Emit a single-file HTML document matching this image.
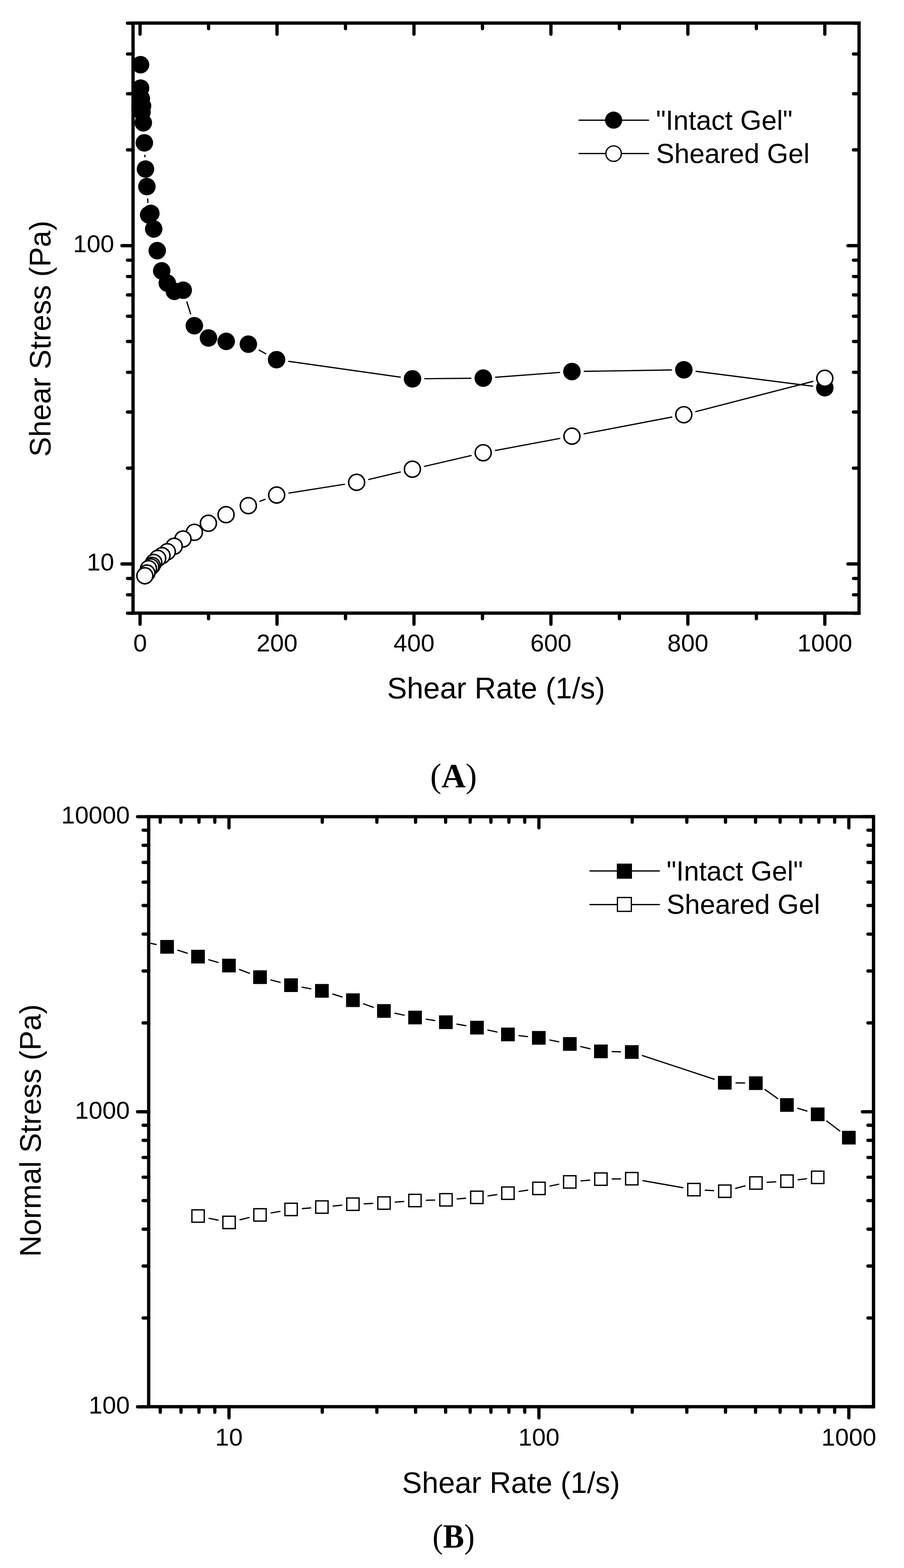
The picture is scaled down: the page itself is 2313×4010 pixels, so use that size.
<!DOCTYPE html>
<html><head><meta charset="utf-8"><title>Shear stress and normal stress vs shear rate</title>
<style>
html,body{margin:0;padding:0;background:#fff;}
body{width:2313px;height:4010px;overflow:hidden;}
svg{display:block;}
</style></head>
<body>
<svg width="2313" height="4010" viewBox="0 0 2313 4010">
<rect x="0" y="0" width="2313" height="4010" fill="#fff"/>
<g id="chartA">
<rect x="340.4" y="59.0" width="1857.6" height="1509.0" fill="none" stroke="#000" stroke-width="8.4" stroke-linejoin="miter"/>
<line x1="358.4" y1="1568.0" x2="358.4" y2="1596.5" stroke="#000" stroke-width="8.4" stroke-linecap="round"/>
<line x1="358.4" y1="59.0" x2="358.4" y2="87.5" stroke="#000" stroke-width="8.4" stroke-linecap="round"/>
<text x="358.4" y="1666.0" font-size="63" text-anchor="middle" font-family="'Liberation Sans', Arial, sans-serif" >0</text>
<line x1="533.6" y1="1568.0" x2="533.6" y2="1582.3" stroke="#000" stroke-width="8.4" stroke-linecap="round"/>
<line x1="533.6" y1="59.0" x2="533.6" y2="73.3" stroke="#000" stroke-width="8.4" stroke-linecap="round"/>
<line x1="708.8" y1="1568.0" x2="708.8" y2="1596.5" stroke="#000" stroke-width="8.4" stroke-linecap="round"/>
<line x1="708.8" y1="59.0" x2="708.8" y2="87.5" stroke="#000" stroke-width="8.4" stroke-linecap="round"/>
<text x="708.8" y="1666.0" font-size="63" text-anchor="middle" font-family="'Liberation Sans', Arial, sans-serif" >200</text>
<line x1="884.0" y1="1568.0" x2="884.0" y2="1582.3" stroke="#000" stroke-width="8.4" stroke-linecap="round"/>
<line x1="884.0" y1="59.0" x2="884.0" y2="73.3" stroke="#000" stroke-width="8.4" stroke-linecap="round"/>
<line x1="1059.2" y1="1568.0" x2="1059.2" y2="1596.5" stroke="#000" stroke-width="8.4" stroke-linecap="round"/>
<line x1="1059.2" y1="59.0" x2="1059.2" y2="87.5" stroke="#000" stroke-width="8.4" stroke-linecap="round"/>
<text x="1059.2" y="1666.0" font-size="63" text-anchor="middle" font-family="'Liberation Sans', Arial, sans-serif" >400</text>
<line x1="1234.4" y1="1568.0" x2="1234.4" y2="1582.3" stroke="#000" stroke-width="8.4" stroke-linecap="round"/>
<line x1="1234.4" y1="59.0" x2="1234.4" y2="73.3" stroke="#000" stroke-width="8.4" stroke-linecap="round"/>
<line x1="1409.6" y1="1568.0" x2="1409.6" y2="1596.5" stroke="#000" stroke-width="8.4" stroke-linecap="round"/>
<line x1="1409.6" y1="59.0" x2="1409.6" y2="87.5" stroke="#000" stroke-width="8.4" stroke-linecap="round"/>
<text x="1409.6" y="1666.0" font-size="63" text-anchor="middle" font-family="'Liberation Sans', Arial, sans-serif" >600</text>
<line x1="1584.8" y1="1568.0" x2="1584.8" y2="1582.3" stroke="#000" stroke-width="8.4" stroke-linecap="round"/>
<line x1="1584.8" y1="59.0" x2="1584.8" y2="73.3" stroke="#000" stroke-width="8.4" stroke-linecap="round"/>
<line x1="1760.0" y1="1568.0" x2="1760.0" y2="1596.5" stroke="#000" stroke-width="8.4" stroke-linecap="round"/>
<line x1="1760.0" y1="59.0" x2="1760.0" y2="87.5" stroke="#000" stroke-width="8.4" stroke-linecap="round"/>
<text x="1760.0" y="1666.0" font-size="63" text-anchor="middle" font-family="'Liberation Sans', Arial, sans-serif" >800</text>
<line x1="1935.2" y1="1568.0" x2="1935.2" y2="1582.3" stroke="#000" stroke-width="8.4" stroke-linecap="round"/>
<line x1="1935.2" y1="59.0" x2="1935.2" y2="73.3" stroke="#000" stroke-width="8.4" stroke-linecap="round"/>
<line x1="2110.4" y1="1568.0" x2="2110.4" y2="1596.5" stroke="#000" stroke-width="8.4" stroke-linecap="round"/>
<line x1="2110.4" y1="59.0" x2="2110.4" y2="87.5" stroke="#000" stroke-width="8.4" stroke-linecap="round"/>
<text x="2110.4" y="1666.0" font-size="63" text-anchor="middle" font-family="'Liberation Sans', Arial, sans-serif" >1000</text>
<line x1="340.4" y1="1568.3" x2="326.1" y2="1568.3" stroke="#000" stroke-width="8.4" stroke-linecap="round"/>
<line x1="2198.0" y1="1568.3" x2="2183.7" y2="1568.3" stroke="#000" stroke-width="8.4" stroke-linecap="round"/>
<line x1="340.4" y1="1521.1" x2="326.1" y2="1521.1" stroke="#000" stroke-width="8.4" stroke-linecap="round"/>
<line x1="2198.0" y1="1521.1" x2="2183.7" y2="1521.1" stroke="#000" stroke-width="8.4" stroke-linecap="round"/>
<line x1="340.4" y1="1479.4" x2="326.1" y2="1479.4" stroke="#000" stroke-width="8.4" stroke-linecap="round"/>
<line x1="2198.0" y1="1479.4" x2="2183.7" y2="1479.4" stroke="#000" stroke-width="8.4" stroke-linecap="round"/>
<line x1="340.4" y1="1442.2" x2="311.9" y2="1442.2" stroke="#000" stroke-width="8.4" stroke-linecap="round"/>
<line x1="2198.0" y1="1442.2" x2="2169.5" y2="1442.2" stroke="#000" stroke-width="8.4" stroke-linecap="round"/>
<line x1="340.4" y1="1197.2" x2="326.1" y2="1197.2" stroke="#000" stroke-width="8.4" stroke-linecap="round"/>
<line x1="2198.0" y1="1197.2" x2="2183.7" y2="1197.2" stroke="#000" stroke-width="8.4" stroke-linecap="round"/>
<line x1="340.4" y1="1053.8" x2="326.1" y2="1053.8" stroke="#000" stroke-width="8.4" stroke-linecap="round"/>
<line x1="2198.0" y1="1053.8" x2="2183.7" y2="1053.8" stroke="#000" stroke-width="8.4" stroke-linecap="round"/>
<line x1="340.4" y1="952.1" x2="326.1" y2="952.1" stroke="#000" stroke-width="8.4" stroke-linecap="round"/>
<line x1="2198.0" y1="952.1" x2="2183.7" y2="952.1" stroke="#000" stroke-width="8.4" stroke-linecap="round"/>
<line x1="340.4" y1="873.2" x2="326.1" y2="873.2" stroke="#000" stroke-width="8.4" stroke-linecap="round"/>
<line x1="2198.0" y1="873.2" x2="2183.7" y2="873.2" stroke="#000" stroke-width="8.4" stroke-linecap="round"/>
<line x1="340.4" y1="808.8" x2="326.1" y2="808.8" stroke="#000" stroke-width="8.4" stroke-linecap="round"/>
<line x1="2198.0" y1="808.8" x2="2183.7" y2="808.8" stroke="#000" stroke-width="8.4" stroke-linecap="round"/>
<line x1="340.4" y1="754.3" x2="326.1" y2="754.3" stroke="#000" stroke-width="8.4" stroke-linecap="round"/>
<line x1="2198.0" y1="754.3" x2="2183.7" y2="754.3" stroke="#000" stroke-width="8.4" stroke-linecap="round"/>
<line x1="340.4" y1="707.1" x2="326.1" y2="707.1" stroke="#000" stroke-width="8.4" stroke-linecap="round"/>
<line x1="2198.0" y1="707.1" x2="2183.7" y2="707.1" stroke="#000" stroke-width="8.4" stroke-linecap="round"/>
<line x1="340.4" y1="665.4" x2="326.1" y2="665.4" stroke="#000" stroke-width="8.4" stroke-linecap="round"/>
<line x1="2198.0" y1="665.4" x2="2183.7" y2="665.4" stroke="#000" stroke-width="8.4" stroke-linecap="round"/>
<line x1="340.4" y1="628.2" x2="311.9" y2="628.2" stroke="#000" stroke-width="8.4" stroke-linecap="round"/>
<line x1="2198.0" y1="628.2" x2="2169.5" y2="628.2" stroke="#000" stroke-width="8.4" stroke-linecap="round"/>
<line x1="340.4" y1="383.2" x2="326.1" y2="383.2" stroke="#000" stroke-width="8.4" stroke-linecap="round"/>
<line x1="2198.0" y1="383.2" x2="2183.7" y2="383.2" stroke="#000" stroke-width="8.4" stroke-linecap="round"/>
<line x1="340.4" y1="239.8" x2="326.1" y2="239.8" stroke="#000" stroke-width="8.4" stroke-linecap="round"/>
<line x1="2198.0" y1="239.8" x2="2183.7" y2="239.8" stroke="#000" stroke-width="8.4" stroke-linecap="round"/>
<line x1="340.4" y1="138.1" x2="326.1" y2="138.1" stroke="#000" stroke-width="8.4" stroke-linecap="round"/>
<line x1="2198.0" y1="138.1" x2="2183.7" y2="138.1" stroke="#000" stroke-width="8.4" stroke-linecap="round"/>
<line x1="340.4" y1="59.2" x2="326.1" y2="59.2" stroke="#000" stroke-width="8.4" stroke-linecap="round"/>
<line x1="2198.0" y1="59.2" x2="2183.7" y2="59.2" stroke="#000" stroke-width="8.4" stroke-linecap="round"/>
<text x="292.0" y="644.7" font-size="63" text-anchor="end" font-family="'Liberation Sans', Arial, sans-serif" >100</text>
<text x="292.0" y="1458.7" font-size="63" text-anchor="end" font-family="'Liberation Sans', Arial, sans-serif" >10</text>
<text x="1269.2" y="1786.3" font-size="76" text-anchor="middle" font-family="'Liberation Sans', Arial, sans-serif" >Shear Rate (1/s)</text>
<text x="0" y="0" font-size="76" text-anchor="middle" font-family="'Liberation Sans', Arial, sans-serif" transform="translate(128.6,866.3) rotate(-90)">Shear Stress (Pa)</text>
</g>
<g id="dataA">
<line x1="370.7" y1="396.9" x2="370.8" y2="400.8" stroke="#000" stroke-width="3.2" stroke-linecap="round"/>
<line x1="377.8" y1="508.6" x2="378.4" y2="518.0" stroke="#000" stroke-width="3.2" stroke-linecap="round"/>
<line x1="478.2" y1="772.4" x2="487.8" y2="802.8" stroke="#000" stroke-width="3.2" stroke-linecap="round"/>
<line x1="663.1" y1="895.4" x2="679.9" y2="904.6" stroke="#000" stroke-width="3.2" stroke-linecap="round"/>
<line x1="738.9" y1="924.2" x2="1024.1" y2="964.4" stroke="#000" stroke-width="3.2" stroke-linecap="round"/>
<line x1="1087.0" y1="968.5" x2="1204.9" y2="967.3" stroke="#000" stroke-width="3.2" stroke-linecap="round"/>
<line x1="1268.0" y1="964.7" x2="1431.8" y2="952.5" stroke="#000" stroke-width="3.2" stroke-linecap="round"/>
<line x1="1494.9" y1="949.7" x2="1718.1" y2="946.2" stroke="#000" stroke-width="3.2" stroke-linecap="round"/>
<line x1="1781.0" y1="949.7" x2="2079.1" y2="987.6" stroke="#000" stroke-width="3.2" stroke-linecap="round"/>
<circle cx="359.6" cy="165.5" r="22.4" fill="#000"/>
<circle cx="359.7" cy="225.4" r="22.4" fill="#000"/>
<circle cx="361.6" cy="252.0" r="22.4" fill="#000"/>
<circle cx="364.7" cy="271.0" r="22.4" fill="#000"/>
<circle cx="363.3" cy="287.0" r="22.4" fill="#000"/>
<circle cx="366.7" cy="314.0" r="22.4" fill="#000"/>
<circle cx="369.3" cy="365.3" r="22.4" fill="#000"/>
<circle cx="372.2" cy="432.4" r="22.4" fill="#000"/>
<circle cx="375.8" cy="477.1" r="22.4" fill="#000"/>
<circle cx="380.4" cy="549.5" r="22.4" fill="#000"/>
<circle cx="386.0" cy="545.7" r="22.4" fill="#000"/>
<circle cx="393.3" cy="585.5" r="22.4" fill="#000"/>
<circle cx="402.3" cy="641.0" r="22.4" fill="#000"/>
<circle cx="413.7" cy="692.7" r="22.4" fill="#000"/>
<circle cx="428.0" cy="724.0" r="22.4" fill="#000"/>
<circle cx="446.1" cy="745.0" r="22.4" fill="#000"/>
<circle cx="468.8" cy="742.2" r="22.4" fill="#000"/>
<circle cx="497.2" cy="833.0" r="22.4" fill="#000"/>
<circle cx="533.4" cy="864.3" r="22.4" fill="#000"/>
<circle cx="578.8" cy="873.0" r="22.4" fill="#000"/>
<circle cx="635.4" cy="880.2" r="22.4" fill="#000"/>
<circle cx="707.6" cy="919.8" r="22.4" fill="#000"/>
<circle cx="1055.4" cy="968.8" r="22.4" fill="#000"/>
<circle cx="1236.5" cy="967.0" r="22.4" fill="#000"/>
<circle cx="1463.3" cy="950.2" r="22.4" fill="#000"/>
<circle cx="1749.7" cy="945.7" r="22.4" fill="#000"/>
<circle cx="2110.4" cy="991.6" r="22.4" fill="#000"/>
<line x1="665.0" y1="1282.1" x2="678.3" y2="1277.1" stroke="#000" stroke-width="3.2" stroke-linecap="round"/>
<line x1="739.1" y1="1261.0" x2="881.3" y2="1238.5" stroke="#000" stroke-width="3.2" stroke-linecap="round"/>
<line x1="943.3" y1="1226.3" x2="1024.4" y2="1207.1" stroke="#000" stroke-width="3.2" stroke-linecap="round"/>
<line x1="1086.0" y1="1192.7" x2="1205.5" y2="1165.0" stroke="#000" stroke-width="3.2" stroke-linecap="round"/>
<line x1="1267.4" y1="1152.0" x2="1432.3" y2="1121.3" stroke="#000" stroke-width="3.2" stroke-linecap="round"/>
<line x1="1494.4" y1="1109.5" x2="1718.6" y2="1066.6" stroke="#000" stroke-width="3.2" stroke-linecap="round"/>
<line x1="1780.2" y1="1052.7" x2="2079.8" y2="975.4" stroke="#000" stroke-width="3.2" stroke-linecap="round"/>
<circle cx="2110.4" cy="967.5" r="20.45" fill="#fff" stroke="#000" stroke-width="3.9"/>
<circle cx="1749.6" cy="1060.6" r="20.45" fill="#fff" stroke="#000" stroke-width="3.9"/>
<circle cx="1463.4" cy="1115.5" r="20.45" fill="#fff" stroke="#000" stroke-width="3.9"/>
<circle cx="1236.3" cy="1157.8" r="20.45" fill="#fff" stroke="#000" stroke-width="3.9"/>
<circle cx="1055.2" cy="1199.9" r="20.45" fill="#fff" stroke="#000" stroke-width="3.9"/>
<circle cx="912.5" cy="1233.5" r="20.45" fill="#fff" stroke="#000" stroke-width="3.9"/>
<circle cx="707.9" cy="1266.0" r="20.45" fill="#fff" stroke="#000" stroke-width="3.9"/>
<circle cx="635.4" cy="1293.2" r="20.45" fill="#fff" stroke="#000" stroke-width="3.9"/>
<circle cx="578.4" cy="1316.2" r="20.45" fill="#fff" stroke="#000" stroke-width="3.9"/>
<circle cx="533.2" cy="1338.2" r="20.45" fill="#fff" stroke="#000" stroke-width="3.9"/>
<circle cx="497.4" cy="1361.3" r="20.45" fill="#fff" stroke="#000" stroke-width="3.9"/>
<circle cx="468.2" cy="1378.4" r="20.45" fill="#fff" stroke="#000" stroke-width="3.9"/>
<circle cx="445.7" cy="1396.9" r="20.45" fill="#fff" stroke="#000" stroke-width="3.9"/>
<circle cx="428.1" cy="1411.0" r="20.45" fill="#fff" stroke="#000" stroke-width="3.9"/>
<circle cx="414.5" cy="1421.0" r="20.45" fill="#fff" stroke="#000" stroke-width="3.9"/>
<circle cx="403.5" cy="1428.0" r="20.45" fill="#fff" stroke="#000" stroke-width="3.9"/>
<circle cx="393.5" cy="1438.4" r="20.45" fill="#fff" stroke="#000" stroke-width="3.9"/>
<circle cx="389.3" cy="1446.0" r="20.45" fill="#fff" stroke="#000" stroke-width="3.9"/>
<circle cx="385.8" cy="1449.8" r="20.45" fill="#fff" stroke="#000" stroke-width="3.9"/>
<circle cx="380.0" cy="1454.3" r="20.45" fill="#fff" stroke="#000" stroke-width="3.9"/>
<circle cx="375.9" cy="1465.5" r="20.45" fill="#fff" stroke="#000" stroke-width="3.9"/>
<circle cx="370.6" cy="1472.5" r="20.45" fill="#fff" stroke="#000" stroke-width="3.9"/>
</g>
<line x1="1481.5" y1="307.4" x2="1659.5" y2="307.4" stroke="#000" stroke-width="3.2" stroke-linecap="round"/>
<circle cx="1570" cy="307.2" r="21.9" fill="#000"/>
<line x1="1481.5" y1="392.6" x2="1659.5" y2="392.6" stroke="#000" stroke-width="3.2" stroke-linecap="round"/>
<circle cx="1570" cy="392.9" r="19.8" fill="#fff" stroke="#000" stroke-width="3.3"/>
<text x="1678.5" y="332.2" font-size="70" text-anchor="start" font-family="'Liberation Sans', Arial, sans-serif" >"Intact Gel"</text>
<text x="1678.5" y="416.9" font-size="70" text-anchor="start" font-family="'Liberation Sans', Arial, sans-serif" >Sheared Gel</text>
<text x="1160.5" y="2012.8" font-size="86" text-anchor="middle" font-family="'Liberation Serif', 'Times New Roman', serif" >(<tspan font-weight="bold">A</tspan>)</text>
<g id="chartB">
<rect x="380.4" y="2088.6" width="1854.6" height="1508.9" fill="none" stroke="#000" stroke-width="8.4" stroke-linejoin="miter"/>
<line x1="410.0" y1="3597.5" x2="410.0" y2="3611.8" stroke="#000" stroke-width="8.4" stroke-linecap="round"/>
<line x1="410.0" y1="2088.6" x2="410.0" y2="2102.9" stroke="#000" stroke-width="8.4" stroke-linecap="round"/>
<line x1="463.1" y1="3597.5" x2="463.1" y2="3611.8" stroke="#000" stroke-width="8.4" stroke-linecap="round"/>
<line x1="463.1" y1="2088.6" x2="463.1" y2="2102.9" stroke="#000" stroke-width="8.4" stroke-linecap="round"/>
<line x1="509.1" y1="3597.5" x2="509.1" y2="3611.8" stroke="#000" stroke-width="8.4" stroke-linecap="round"/>
<line x1="509.1" y1="2088.6" x2="509.1" y2="2102.9" stroke="#000" stroke-width="8.4" stroke-linecap="round"/>
<line x1="549.6" y1="3597.5" x2="549.6" y2="3611.8" stroke="#000" stroke-width="8.4" stroke-linecap="round"/>
<line x1="549.6" y1="2088.6" x2="549.6" y2="2102.9" stroke="#000" stroke-width="8.4" stroke-linecap="round"/>
<line x1="585.9" y1="3597.5" x2="585.9" y2="3626.0" stroke="#000" stroke-width="8.4" stroke-linecap="round"/>
<line x1="585.9" y1="2088.6" x2="585.9" y2="2117.1" stroke="#000" stroke-width="8.4" stroke-linecap="round"/>
<text x="585.9" y="3697.0" font-size="63" text-anchor="middle" font-family="'Liberation Sans', Arial, sans-serif" >10</text>
<line x1="824.6" y1="3597.5" x2="824.6" y2="3611.8" stroke="#000" stroke-width="8.4" stroke-linecap="round"/>
<line x1="824.6" y1="2088.6" x2="824.6" y2="2102.9" stroke="#000" stroke-width="8.4" stroke-linecap="round"/>
<line x1="964.3" y1="3597.5" x2="964.3" y2="3611.8" stroke="#000" stroke-width="8.4" stroke-linecap="round"/>
<line x1="964.3" y1="2088.6" x2="964.3" y2="2102.9" stroke="#000" stroke-width="8.4" stroke-linecap="round"/>
<line x1="1063.3" y1="3597.5" x2="1063.3" y2="3611.8" stroke="#000" stroke-width="8.4" stroke-linecap="round"/>
<line x1="1063.3" y1="2088.6" x2="1063.3" y2="2102.9" stroke="#000" stroke-width="8.4" stroke-linecap="round"/>
<line x1="1140.2" y1="3597.5" x2="1140.2" y2="3611.8" stroke="#000" stroke-width="8.4" stroke-linecap="round"/>
<line x1="1140.2" y1="2088.6" x2="1140.2" y2="2102.9" stroke="#000" stroke-width="8.4" stroke-linecap="round"/>
<line x1="1203.0" y1="3597.5" x2="1203.0" y2="3611.8" stroke="#000" stroke-width="8.4" stroke-linecap="round"/>
<line x1="1203.0" y1="2088.6" x2="1203.0" y2="2102.9" stroke="#000" stroke-width="8.4" stroke-linecap="round"/>
<line x1="1256.1" y1="3597.5" x2="1256.1" y2="3611.8" stroke="#000" stroke-width="8.4" stroke-linecap="round"/>
<line x1="1256.1" y1="2088.6" x2="1256.1" y2="2102.9" stroke="#000" stroke-width="8.4" stroke-linecap="round"/>
<line x1="1302.1" y1="3597.5" x2="1302.1" y2="3611.8" stroke="#000" stroke-width="8.4" stroke-linecap="round"/>
<line x1="1302.1" y1="2088.6" x2="1302.1" y2="2102.9" stroke="#000" stroke-width="8.4" stroke-linecap="round"/>
<line x1="1342.6" y1="3597.5" x2="1342.6" y2="3611.8" stroke="#000" stroke-width="8.4" stroke-linecap="round"/>
<line x1="1342.6" y1="2088.6" x2="1342.6" y2="2102.9" stroke="#000" stroke-width="8.4" stroke-linecap="round"/>
<line x1="1378.9" y1="3597.5" x2="1378.9" y2="3626.0" stroke="#000" stroke-width="8.4" stroke-linecap="round"/>
<line x1="1378.9" y1="2088.6" x2="1378.9" y2="2117.1" stroke="#000" stroke-width="8.4" stroke-linecap="round"/>
<text x="1378.9" y="3697.0" font-size="63" text-anchor="middle" font-family="'Liberation Sans', Arial, sans-serif" >100</text>
<line x1="1617.6" y1="3597.5" x2="1617.6" y2="3611.8" stroke="#000" stroke-width="8.4" stroke-linecap="round"/>
<line x1="1617.6" y1="2088.6" x2="1617.6" y2="2102.9" stroke="#000" stroke-width="8.4" stroke-linecap="round"/>
<line x1="1757.3" y1="3597.5" x2="1757.3" y2="3611.8" stroke="#000" stroke-width="8.4" stroke-linecap="round"/>
<line x1="1757.3" y1="2088.6" x2="1757.3" y2="2102.9" stroke="#000" stroke-width="8.4" stroke-linecap="round"/>
<line x1="1856.3" y1="3597.5" x2="1856.3" y2="3611.8" stroke="#000" stroke-width="8.4" stroke-linecap="round"/>
<line x1="1856.3" y1="2088.6" x2="1856.3" y2="2102.9" stroke="#000" stroke-width="8.4" stroke-linecap="round"/>
<line x1="1933.2" y1="3597.5" x2="1933.2" y2="3611.8" stroke="#000" stroke-width="8.4" stroke-linecap="round"/>
<line x1="1933.2" y1="2088.6" x2="1933.2" y2="2102.9" stroke="#000" stroke-width="8.4" stroke-linecap="round"/>
<line x1="1996.0" y1="3597.5" x2="1996.0" y2="3611.8" stroke="#000" stroke-width="8.4" stroke-linecap="round"/>
<line x1="1996.0" y1="2088.6" x2="1996.0" y2="2102.9" stroke="#000" stroke-width="8.4" stroke-linecap="round"/>
<line x1="2049.1" y1="3597.5" x2="2049.1" y2="3611.8" stroke="#000" stroke-width="8.4" stroke-linecap="round"/>
<line x1="2049.1" y1="2088.6" x2="2049.1" y2="2102.9" stroke="#000" stroke-width="8.4" stroke-linecap="round"/>
<line x1="2095.1" y1="3597.5" x2="2095.1" y2="3611.8" stroke="#000" stroke-width="8.4" stroke-linecap="round"/>
<line x1="2095.1" y1="2088.6" x2="2095.1" y2="2102.9" stroke="#000" stroke-width="8.4" stroke-linecap="round"/>
<line x1="2135.6" y1="3597.5" x2="2135.6" y2="3611.8" stroke="#000" stroke-width="8.4" stroke-linecap="round"/>
<line x1="2135.6" y1="2088.6" x2="2135.6" y2="2102.9" stroke="#000" stroke-width="8.4" stroke-linecap="round"/>
<line x1="2171.9" y1="3597.5" x2="2171.9" y2="3626.0" stroke="#000" stroke-width="8.4" stroke-linecap="round"/>
<line x1="2171.9" y1="2088.6" x2="2171.9" y2="2117.1" stroke="#000" stroke-width="8.4" stroke-linecap="round"/>
<text x="2171.9" y="3697.0" font-size="63" text-anchor="middle" font-family="'Liberation Sans', Arial, sans-serif" >1000</text>
<line x1="380.4" y1="3597.8" x2="351.9" y2="3597.8" stroke="#000" stroke-width="8.4" stroke-linecap="round"/>
<line x1="2235.0" y1="3597.8" x2="2206.5" y2="3597.8" stroke="#000" stroke-width="8.4" stroke-linecap="round"/>
<line x1="380.4" y1="3370.6" x2="366.1" y2="3370.6" stroke="#000" stroke-width="8.4" stroke-linecap="round"/>
<line x1="2235.0" y1="3370.6" x2="2220.7" y2="3370.6" stroke="#000" stroke-width="8.4" stroke-linecap="round"/>
<line x1="380.4" y1="3237.8" x2="366.1" y2="3237.8" stroke="#000" stroke-width="8.4" stroke-linecap="round"/>
<line x1="2235.0" y1="3237.8" x2="2220.7" y2="3237.8" stroke="#000" stroke-width="8.4" stroke-linecap="round"/>
<line x1="380.4" y1="3143.5" x2="366.1" y2="3143.5" stroke="#000" stroke-width="8.4" stroke-linecap="round"/>
<line x1="2235.0" y1="3143.5" x2="2220.7" y2="3143.5" stroke="#000" stroke-width="8.4" stroke-linecap="round"/>
<line x1="380.4" y1="3070.4" x2="366.1" y2="3070.4" stroke="#000" stroke-width="8.4" stroke-linecap="round"/>
<line x1="2235.0" y1="3070.4" x2="2220.7" y2="3070.4" stroke="#000" stroke-width="8.4" stroke-linecap="round"/>
<line x1="380.4" y1="3010.6" x2="366.1" y2="3010.6" stroke="#000" stroke-width="8.4" stroke-linecap="round"/>
<line x1="2235.0" y1="3010.6" x2="2220.7" y2="3010.6" stroke="#000" stroke-width="8.4" stroke-linecap="round"/>
<line x1="380.4" y1="2960.1" x2="366.1" y2="2960.1" stroke="#000" stroke-width="8.4" stroke-linecap="round"/>
<line x1="2235.0" y1="2960.1" x2="2220.7" y2="2960.1" stroke="#000" stroke-width="8.4" stroke-linecap="round"/>
<line x1="380.4" y1="2916.3" x2="366.1" y2="2916.3" stroke="#000" stroke-width="8.4" stroke-linecap="round"/>
<line x1="2235.0" y1="2916.3" x2="2220.7" y2="2916.3" stroke="#000" stroke-width="8.4" stroke-linecap="round"/>
<line x1="380.4" y1="2877.7" x2="366.1" y2="2877.7" stroke="#000" stroke-width="8.4" stroke-linecap="round"/>
<line x1="2235.0" y1="2877.7" x2="2220.7" y2="2877.7" stroke="#000" stroke-width="8.4" stroke-linecap="round"/>
<line x1="380.4" y1="2843.2" x2="351.9" y2="2843.2" stroke="#000" stroke-width="8.4" stroke-linecap="round"/>
<line x1="2235.0" y1="2843.2" x2="2206.5" y2="2843.2" stroke="#000" stroke-width="8.4" stroke-linecap="round"/>
<line x1="380.4" y1="2616.0" x2="366.1" y2="2616.0" stroke="#000" stroke-width="8.4" stroke-linecap="round"/>
<line x1="2235.0" y1="2616.0" x2="2220.7" y2="2616.0" stroke="#000" stroke-width="8.4" stroke-linecap="round"/>
<line x1="380.4" y1="2483.2" x2="366.1" y2="2483.2" stroke="#000" stroke-width="8.4" stroke-linecap="round"/>
<line x1="2235.0" y1="2483.2" x2="2220.7" y2="2483.2" stroke="#000" stroke-width="8.4" stroke-linecap="round"/>
<line x1="380.4" y1="2388.9" x2="366.1" y2="2388.9" stroke="#000" stroke-width="8.4" stroke-linecap="round"/>
<line x1="2235.0" y1="2388.9" x2="2220.7" y2="2388.9" stroke="#000" stroke-width="8.4" stroke-linecap="round"/>
<line x1="380.4" y1="2315.8" x2="366.1" y2="2315.8" stroke="#000" stroke-width="8.4" stroke-linecap="round"/>
<line x1="2235.0" y1="2315.8" x2="2220.7" y2="2315.8" stroke="#000" stroke-width="8.4" stroke-linecap="round"/>
<line x1="380.4" y1="2256.0" x2="366.1" y2="2256.0" stroke="#000" stroke-width="8.4" stroke-linecap="round"/>
<line x1="2235.0" y1="2256.0" x2="2220.7" y2="2256.0" stroke="#000" stroke-width="8.4" stroke-linecap="round"/>
<line x1="380.4" y1="2205.5" x2="366.1" y2="2205.5" stroke="#000" stroke-width="8.4" stroke-linecap="round"/>
<line x1="2235.0" y1="2205.5" x2="2220.7" y2="2205.5" stroke="#000" stroke-width="8.4" stroke-linecap="round"/>
<line x1="380.4" y1="2161.7" x2="366.1" y2="2161.7" stroke="#000" stroke-width="8.4" stroke-linecap="round"/>
<line x1="2235.0" y1="2161.7" x2="2220.7" y2="2161.7" stroke="#000" stroke-width="8.4" stroke-linecap="round"/>
<line x1="380.4" y1="2123.1" x2="366.1" y2="2123.1" stroke="#000" stroke-width="8.4" stroke-linecap="round"/>
<line x1="2235.0" y1="2123.1" x2="2220.7" y2="2123.1" stroke="#000" stroke-width="8.4" stroke-linecap="round"/>
<line x1="380.4" y1="2088.6" x2="351.9" y2="2088.6" stroke="#000" stroke-width="8.4" stroke-linecap="round"/>
<line x1="2235.0" y1="2088.6" x2="2206.5" y2="2088.6" stroke="#000" stroke-width="8.4" stroke-linecap="round"/>
<text x="332.0" y="3615.3" font-size="63" text-anchor="end" font-family="'Liberation Sans', Arial, sans-serif" >100</text>
<text x="332.0" y="2860.7" font-size="63" text-anchor="end" font-family="'Liberation Sans', Arial, sans-serif" >1000</text>
<text x="332.0" y="2106.1" font-size="63" text-anchor="end" font-family="'Liberation Sans', Arial, sans-serif" >10000</text>
<text x="1307.6" y="3818.1" font-size="76" text-anchor="middle" font-family="'Liberation Sans', Arial, sans-serif" >Shear Rate (1/s)</text>
<text x="0" y="0" font-size="76" text-anchor="middle" font-family="'Liberation Sans', Arial, sans-serif" transform="translate(103.7,2891.3) rotate(-90)">Normal Stress (Pa)</text>
</g>
<defs><clipPath id="clipB"><rect x="384.6" y="2088.6" width="1846.2" height="1508.9"/></clipPath></defs>
<g id="dataB" clip-path="url(#clipB)">
<line x1="376.2" y1="2410.5" x2="399.3" y2="2415.4" stroke="#000" stroke-width="3.2" stroke-linecap="round"/>
<line x1="455.0" y1="2430.1" x2="479.1" y2="2437.8" stroke="#000" stroke-width="3.2" stroke-linecap="round"/>
<line x1="534.3" y1="2454.5" x2="558.1" y2="2461.3" stroke="#000" stroke-width="3.2" stroke-linecap="round"/>
<line x1="612.8" y1="2479.4" x2="638.3" y2="2488.9" stroke="#000" stroke-width="3.2" stroke-linecap="round"/>
<line x1="693.2" y1="2506.2" x2="716.7" y2="2512.3" stroke="#000" stroke-width="3.2" stroke-linecap="round"/>
<line x1="772.9" y1="2524.7" x2="795.3" y2="2528.8" stroke="#000" stroke-width="3.2" stroke-linecap="round"/>
<line x1="851.2" y1="2542.3" x2="875.4" y2="2549.6" stroke="#000" stroke-width="3.2" stroke-linecap="round"/>
<line x1="930.2" y1="2567.3" x2="955.1" y2="2576.0" stroke="#000" stroke-width="3.2" stroke-linecap="round"/>
<line x1="1010.5" y1="2591.3" x2="1033.8" y2="2596.3" stroke="#000" stroke-width="3.2" stroke-linecap="round"/>
<line x1="1090.5" y1="2606.5" x2="1112.3" y2="2609.9" stroke="#000" stroke-width="3.2" stroke-linecap="round"/>
<line x1="1169.2" y1="2619.2" x2="1191.9" y2="2623.1" stroke="#000" stroke-width="3.2" stroke-linecap="round"/>
<line x1="1248.4" y1="2634.3" x2="1271.5" y2="2639.3" stroke="#000" stroke-width="3.2" stroke-linecap="round"/>
<line x1="1328.2" y1="2648.7" x2="1350.0" y2="2651.0" stroke="#000" stroke-width="3.2" stroke-linecap="round"/>
<line x1="1406.9" y1="2659.8" x2="1429.7" y2="2664.2" stroke="#000" stroke-width="3.2" stroke-linecap="round"/>
<line x1="1486.0" y1="2676.5" x2="1509.5" y2="2682.1" stroke="#000" stroke-width="3.2" stroke-linecap="round"/>
<line x1="1566.3" y1="2689.4" x2="1587.7" y2="2689.8" stroke="#000" stroke-width="3.2" stroke-linecap="round"/>
<line x1="1643.8" y1="2699.4" x2="1827.2" y2="2760.0" stroke="#000" stroke-width="3.2" stroke-linecap="round"/>
<line x1="1883.3" y1="2769.4" x2="1905.1" y2="2769.7" stroke="#000" stroke-width="3.2" stroke-linecap="round"/>
<line x1="1957.5" y1="2786.6" x2="1989.8" y2="2809.4" stroke="#000" stroke-width="3.2" stroke-linecap="round"/>
<line x1="2041.0" y1="2834.3" x2="2064.6" y2="2841.4" stroke="#000" stroke-width="3.2" stroke-linecap="round"/>
<line x1="2115.3" y1="2867.0" x2="2148.8" y2="2892.2" stroke="#000" stroke-width="3.2" stroke-linecap="round"/>
<rect x="330.5" y="2387.0" width="35.0" height="35.0" fill="#000"/>
<rect x="410.0" y="2403.9" width="35.0" height="35.0" fill="#000"/>
<rect x="489.1" y="2429.0" width="35.0" height="35.0" fill="#000"/>
<rect x="568.3" y="2451.8" width="35.0" height="35.0" fill="#000"/>
<rect x="647.8" y="2481.5" width="35.0" height="35.0" fill="#000"/>
<rect x="727.1" y="2502.0" width="35.0" height="35.0" fill="#000"/>
<rect x="806.1" y="2516.5" width="35.0" height="35.0" fill="#000"/>
<rect x="885.5" y="2540.4" width="35.0" height="35.0" fill="#000"/>
<rect x="964.8" y="2567.9" width="35.0" height="35.0" fill="#000"/>
<rect x="1044.5" y="2584.7" width="35.0" height="35.0" fill="#000"/>
<rect x="1123.3" y="2596.7" width="35.0" height="35.0" fill="#000"/>
<rect x="1202.8" y="2610.6" width="35.0" height="35.0" fill="#000"/>
<rect x="1282.1" y="2628.0" width="35.0" height="35.0" fill="#000"/>
<rect x="1361.1" y="2636.7" width="35.0" height="35.0" fill="#000"/>
<rect x="1440.5" y="2652.3" width="35.0" height="35.0" fill="#000"/>
<rect x="1520.0" y="2671.3" width="35.0" height="35.0" fill="#000"/>
<rect x="1599.0" y="2672.9" width="35.0" height="35.0" fill="#000"/>
<rect x="1837.0" y="2751.5" width="35.0" height="35.0" fill="#000"/>
<rect x="1916.4" y="2752.6" width="35.0" height="35.0" fill="#000"/>
<rect x="1995.9" y="2808.4" width="35.0" height="35.0" fill="#000"/>
<rect x="2074.7" y="2832.3" width="35.0" height="35.0" fill="#000"/>
<rect x="2154.4" y="2891.9" width="35.0" height="35.0" fill="#000"/>
<line x1="535.0" y1="3115.7" x2="557.9" y2="3120.4" stroke="#000" stroke-width="3.2" stroke-linecap="round"/>
<line x1="614.1" y1="3119.4" x2="637.3" y2="3113.8" stroke="#000" stroke-width="3.2" stroke-linecap="round"/>
<line x1="693.7" y1="3102.0" x2="716.4" y2="3098.0" stroke="#000" stroke-width="3.2" stroke-linecap="round"/>
<line x1="773.5" y1="3090.8" x2="794.9" y2="3089.1" stroke="#000" stroke-width="3.2" stroke-linecap="round"/>
<line x1="852.3" y1="3084.3" x2="874.3" y2="3082.2" stroke="#000" stroke-width="3.2" stroke-linecap="round"/>
<line x1="931.8" y1="3078.6" x2="953.7" y2="3077.7" stroke="#000" stroke-width="3.2" stroke-linecap="round"/>
<line x1="1011.2" y1="3074.3" x2="1033.0" y2="3072.6" stroke="#000" stroke-width="3.2" stroke-linecap="round"/>
<line x1="1090.5" y1="3069.5" x2="1112.3" y2="3069.1" stroke="#000" stroke-width="3.2" stroke-linecap="round"/>
<line x1="1169.8" y1="3066.1" x2="1191.4" y2="3064.4" stroke="#000" stroke-width="3.2" stroke-linecap="round"/>
<line x1="1248.6" y1="3058.3" x2="1271.1" y2="3055.2" stroke="#000" stroke-width="3.2" stroke-linecap="round"/>
<line x1="1328.1" y1="3047.0" x2="1350.5" y2="3043.6" stroke="#000" stroke-width="3.2" stroke-linecap="round"/>
<line x1="1407.2" y1="3033.3" x2="1429.6" y2="3028.5" stroke="#000" stroke-width="3.2" stroke-linecap="round"/>
<line x1="1486.5" y1="3020.0" x2="1508.8" y2="3018.1" stroke="#000" stroke-width="3.2" stroke-linecap="round"/>
<line x1="1566.3" y1="3015.1" x2="1587.7" y2="3014.8" stroke="#000" stroke-width="3.2" stroke-linecap="round"/>
<line x1="1644.9" y1="3019.4" x2="1747.1" y2="3037.3" stroke="#000" stroke-width="3.2" stroke-linecap="round"/>
<line x1="1804.3" y1="3043.8" x2="1825.7" y2="3044.9" stroke="#000" stroke-width="3.2" stroke-linecap="round"/>
<line x1="1882.3" y1="3039.1" x2="1906.4" y2="3032.7" stroke="#000" stroke-width="3.2" stroke-linecap="round"/>
<line x1="1962.9" y1="3023.7" x2="1984.9" y2="3022.4" stroke="#000" stroke-width="3.2" stroke-linecap="round"/>
<line x1="2042.2" y1="3017.1" x2="2063.6" y2="3014.5" stroke="#000" stroke-width="3.2" stroke-linecap="round"/>
<rect x="491.0" y="3094.1" width="31.6" height="31.6" fill="#fff" stroke="#000" stroke-width="3.4"/>
<rect x="570.3" y="3110.4" width="31.6" height="31.6" fill="#fff" stroke="#000" stroke-width="3.4"/>
<rect x="649.5" y="3091.2" width="31.6" height="31.6" fill="#fff" stroke="#000" stroke-width="3.4"/>
<rect x="729.0" y="3077.2" width="31.6" height="31.6" fill="#fff" stroke="#000" stroke-width="3.4"/>
<rect x="807.8" y="3071.1" width="31.6" height="31.6" fill="#fff" stroke="#000" stroke-width="3.4"/>
<rect x="887.2" y="3063.8" width="31.6" height="31.6" fill="#fff" stroke="#000" stroke-width="3.4"/>
<rect x="966.7" y="3060.9" width="31.6" height="31.6" fill="#fff" stroke="#000" stroke-width="3.4"/>
<rect x="1045.9" y="3054.4" width="31.6" height="31.6" fill="#fff" stroke="#000" stroke-width="3.4"/>
<rect x="1125.3" y="3052.6" width="31.6" height="31.6" fill="#fff" stroke="#000" stroke-width="3.4"/>
<rect x="1204.3" y="3046.3" width="31.6" height="31.6" fill="#fff" stroke="#000" stroke-width="3.4"/>
<rect x="1283.8" y="3035.6" width="31.6" height="31.6" fill="#fff" stroke="#000" stroke-width="3.4"/>
<rect x="1363.2" y="3023.4" width="31.6" height="31.6" fill="#fff" stroke="#000" stroke-width="3.4"/>
<rect x="1442.0" y="3006.8" width="31.6" height="31.6" fill="#fff" stroke="#000" stroke-width="3.4"/>
<rect x="1521.7" y="2999.7" width="31.6" height="31.6" fill="#fff" stroke="#000" stroke-width="3.4"/>
<rect x="1600.7" y="2998.6" width="31.6" height="31.6" fill="#fff" stroke="#000" stroke-width="3.4"/>
<rect x="1759.7" y="3026.5" width="31.6" height="31.6" fill="#fff" stroke="#000" stroke-width="3.4"/>
<rect x="1838.7" y="3030.6" width="31.6" height="31.6" fill="#fff" stroke="#000" stroke-width="3.4"/>
<rect x="1918.4" y="3009.6" width="31.6" height="31.6" fill="#fff" stroke="#000" stroke-width="3.4"/>
<rect x="1997.8" y="3004.9" width="31.6" height="31.6" fill="#fff" stroke="#000" stroke-width="3.4"/>
<rect x="2076.4" y="2995.1" width="31.6" height="31.6" fill="#fff" stroke="#000" stroke-width="3.4"/>
</g>
<line x1="1509.5" y1="2227.4" x2="1687.0" y2="2227.4" stroke="#000" stroke-width="3.2" stroke-linecap="round"/>
<rect x="1578.2" y="2208.6" width="38.8" height="38.6" fill="#000"/>
<line x1="1509.5" y1="2313.4" x2="1687.0" y2="2313.4" stroke="#000" stroke-width="3.2" stroke-linecap="round"/>
<rect x="1579.8" y="2295.3" width="35.6" height="35.4" fill="#fff" stroke="#000" stroke-width="3.2"/>
<text x="1705.4" y="2252.3" font-size="70" text-anchor="start" font-family="'Liberation Sans', Arial, sans-serif" >"Intact Gel"</text>
<text x="1705.4" y="2336.9" font-size="70" text-anchor="start" font-family="'Liberation Sans', Arial, sans-serif" >Sheared Gel</text>
<text x="1160.6" y="3957.8" font-size="86" text-anchor="middle" font-family="'Liberation Serif', 'Times New Roman', serif" textLength="108" lengthAdjust="spacingAndGlyphs">(<tspan font-weight="bold">B</tspan>)</text>
</svg>
</body></html>
